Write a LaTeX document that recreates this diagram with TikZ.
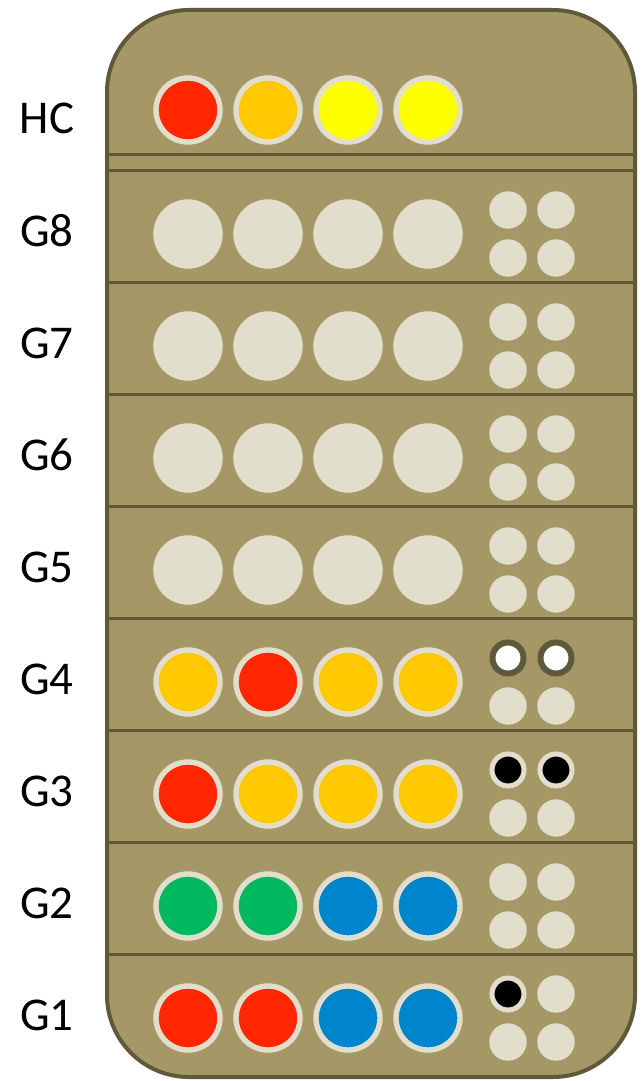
\documentclass[tikz,border=0pt]{standalone}
\usepackage{fontspec}
\setmainfont{Carlito}
\definecolor{board}{HTML}{A59866}
\definecolor{edge}{HTML}{5E593A}
\definecolor{ring}{HTML}{E1DECB}
\definecolor{pred}{HTML}{FF2600}
\definecolor{porange}{HTML}{FFC800}
\definecolor{pyellow}{HTML}{FFFF00}
\definecolor{pgreen}{HTML}{00B85E}
\definecolor{pblue}{HTML}{0085CC}
\tikzset{
  bigpeg/.style={circle,draw=ring,line width=5.4pt,inner sep=0pt,minimum size=64pt},
  holebig/.style={circle,fill=ring,inner sep=0pt,minimum size=69.4pt},
  holesmall/.style={circle,fill=ring,inner sep=0pt,minimum size=37.4pt},
  blackkey/.style={circle,fill=black,draw=ring,line width=5pt,inner sep=0pt,minimum size=32pt},
  whitekey/.style={circle,fill=white,draw=edge,line width=6pt,inner sep=0pt,minimum size=31pt},
  rowlabel/.style={font=\fontsize{47}{47}\selectfont,inner sep=0pt},
  divider/.style={draw=edge,line width=3pt}
}
\begin{document}
\begin{tikzpicture}[x=1pt,y=-1pt]
\useasboundingbox (0,0) rectangle (642,1081);
% board
\draw[fill=board,draw=edge,line width=4pt,rounded corners=82pt] (107,10) rectangle (635,1077);
% dividers
\coordinate (dl0) at (107,154); \coordinate (dr0) at (635,154);
\draw[divider] (dl0) -- (dr0);
\foreach \k in {0,...,7}{
  \coordinate (dl\k x) at (107,170+112*\k);
  \coordinate (dr\k x) at (635,170+112*\k);
  \draw[divider] (dl\k x) -- (dr\k x);
}
% HC row
\node[rowlabel] (lHC) at (47,118) {HC};
\node[bigpeg,fill=pred] (hc1) at (188,110) {};
\node[bigpeg,fill=porange] (hc2) at (268,110) {};
\node[bigpeg,fill=pyellow] (hc3) at (348,110) {};
\node[bigpeg,fill=pyellow] (hc4) at (428,110) {};
% labels
\foreach \g [count=\k from 0] in {8,7,6,5,4,3,2,1}{
  \node[rowlabel] (lG\g) at (47,170+112*\k+61) {G\g};
}
% empty rows G8..G5
\foreach \g [count=\k from 0] in {8,7,6,5}{
  \foreach \c in {1,...,4}{
    \node[holebig] (g\g p\c) at (108+80*\c,170+112*\k+64) {};
  }
  \node[holesmall] (g\g k1) at (508,170+112*\k+40) {};
  \node[holesmall] (g\g k2) at (556,170+112*\k+40) {};
  \node[holesmall] (g\g k3) at (508,170+112*\k+88) {};
  \node[holesmall] (g\g k4) at (556,170+112*\k+88) {};
}
% G4 (top 618)
\node[bigpeg,fill=porange] (g4p1) at (188,682) {};
\node[bigpeg,fill=pred] (g4p2) at (268,682) {};
\node[bigpeg,fill=porange] (g4p3) at (348,682) {};
\node[bigpeg,fill=porange] (g4p4) at (428,682) {};
\node[whitekey] (g4k1) at (508,658) {};
\node[whitekey] (g4k2) at (556,658) {};
\node[holesmall] (g4k3) at (508,706) {};
\node[holesmall] (g4k4) at (556,706) {};
% G3 (top 730)
\node[bigpeg,fill=pred] (g3p1) at (188,794) {};
\node[bigpeg,fill=porange] (g3p2) at (268,794) {};
\node[bigpeg,fill=porange] (g3p3) at (348,794) {};
\node[bigpeg,fill=porange] (g3p4) at (428,794) {};
\node[blackkey] (g3k1) at (508,770) {};
\node[blackkey] (g3k2) at (556,770) {};
\node[holesmall] (g3k3) at (508,818) {};
\node[holesmall] (g3k4) at (556,818) {};
% G2 (top 842)
\node[bigpeg,fill=pgreen] (g2p1) at (188,906) {};
\node[bigpeg,fill=pgreen] (g2p2) at (268,906) {};
\node[bigpeg,fill=pblue] (g2p3) at (348,906) {};
\node[bigpeg,fill=pblue] (g2p4) at (428,906) {};
\node[holesmall] (g2k1) at (508,882) {};
\node[holesmall] (g2k2) at (556,882) {};
\node[holesmall] (g2k3) at (508,930) {};
\node[holesmall] (g2k4) at (556,930) {};
% G1 (top 954)
\node[bigpeg,fill=pred] (g1p1) at (188,1018) {};
\node[bigpeg,fill=pred] (g1p2) at (268,1018) {};
\node[bigpeg,fill=pblue] (g1p3) at (348,1018) {};
\node[bigpeg,fill=pblue] (g1p4) at (428,1018) {};
\node[blackkey] (g1k1) at (508,994) {};
\node[holesmall] (g1k2) at (556,994) {};
\node[holesmall] (g1k3) at (508,1042) {};
\node[holesmall] (g1k4) at (556,1042) {};
\end{tikzpicture}
\end{document}
